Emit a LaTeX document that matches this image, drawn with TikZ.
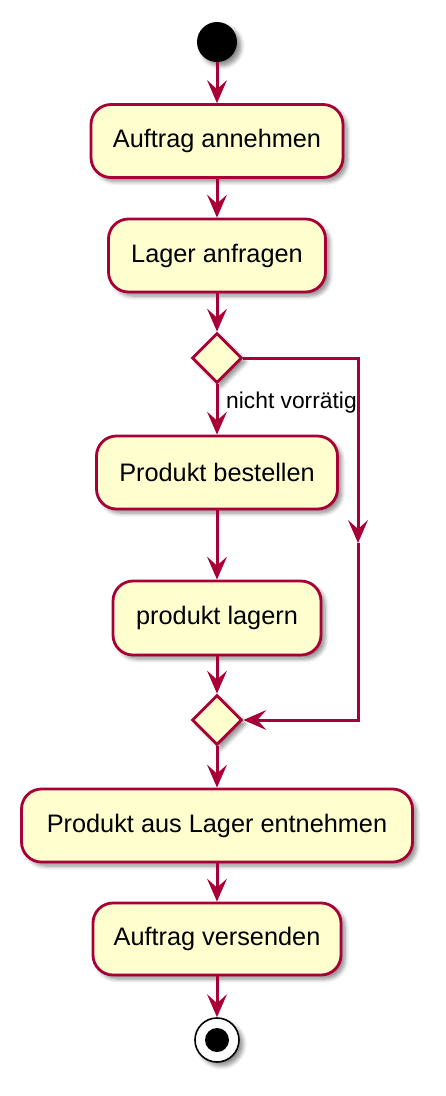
\documentclass[tikz,border=0pt]{standalone}
\usepackage{fontspec}
\setmainfont{Liberation Sans}
\usetikzlibrary{shapes.geometric,arrows.meta,shadows.blur}
\definecolor{pline}{HTML}{A80036}
\definecolor{pfill}{HTML}{FEFECE}
\begin{document}
\begin{tikzpicture}[x=1pt,y=-1pt,
  shd/.style={blur shadow={shadow xshift=4pt,shadow yshift=-4pt,shadow blur steps=6,shadow opacity=45,shadow blur radius=4pt}},
  act/.style={draw=pline,line width=2.8pt,fill=pfill,rounded corners=20pt,
    font=\fontsize{25.3}{29}\selectfont,inner sep=0pt,align=center,shd},
  dec/.style={diamond,draw=pline,line width=2.8pt,fill=pfill,inner sep=0pt,
    minimum width=50pt,minimum height=50pt,shd},
  conn/.style={draw=pline,line width=3pt},
  arr/.style={conn,-{Stealth[length=23pt,width=20pt,inset=9pt,line width=0pt]}}
]
\useasboundingbox (0,0) rectangle (445,1096);
\node[circle,fill=black,minimum size=40pt,inner sep=0pt,shd] (start) at (217,42) {};
\node[act,minimum width=252pt,minimum height=73pt] (a1) at (217,141) {Auftrag annehmen};
\node[act,minimum width=217pt,minimum height=73pt] (a2) at (217,255.5) {Lager anfragen};
\node[dec] (d1) at (217,358) {};
\node[act,minimum width=241pt,minimum height=73pt] (a3) at (217,472.5) {Produkt bestellen};
\node[act,minimum width=208pt,minimum height=74pt] (a4) at (217,618) {produkt lagern};
\node[dec] (d2) at (217,720) {};
\node[act,minimum width=391pt,minimum height=73pt] (a5) at (217,825.5) {Produkt aus Lager entnehmen};
\node[act,minimum width=248pt,minimum height=72pt] (a6) at (217,939) {Auftrag versenden};
\node[circle,draw=black,line width=1.6pt,fill=white,minimum size=44pt,inner sep=0pt,shd] (end) at (217,1040) {};
\node[circle,fill=black,minimum size=24pt,inner sep=0pt] (endin) at (217,1040) {};
\coordinate (r1) at (358,358);
\coordinate (rm) at (358,543);
\coordinate (r2) at (358,720);

\draw[arr] (start) -- (a1);
\draw[arr] (a1) -- (a2);
\draw[arr] (a2) -- (d1);
\draw[arr] (d1) -- (a3);
\node[anchor=west,font=\fontsize{22.8}{26}\selectfont,inner sep=0pt] (lbl) at (226,403) {nicht vorrätig};
\draw[arr] (a3) -- (a4);
\draw[arr] (a4) -- (d2);
\draw[arr] (d1.east) -- (r1) -- (rm);
\draw[arr] (rm) -- (r2) -- (d2.east);
\draw[arr] (d2) -- (a5);
\draw[arr] (a5) -- (a6);
\draw[arr] (a6) -- (end);
\end{tikzpicture}
\end{document}
